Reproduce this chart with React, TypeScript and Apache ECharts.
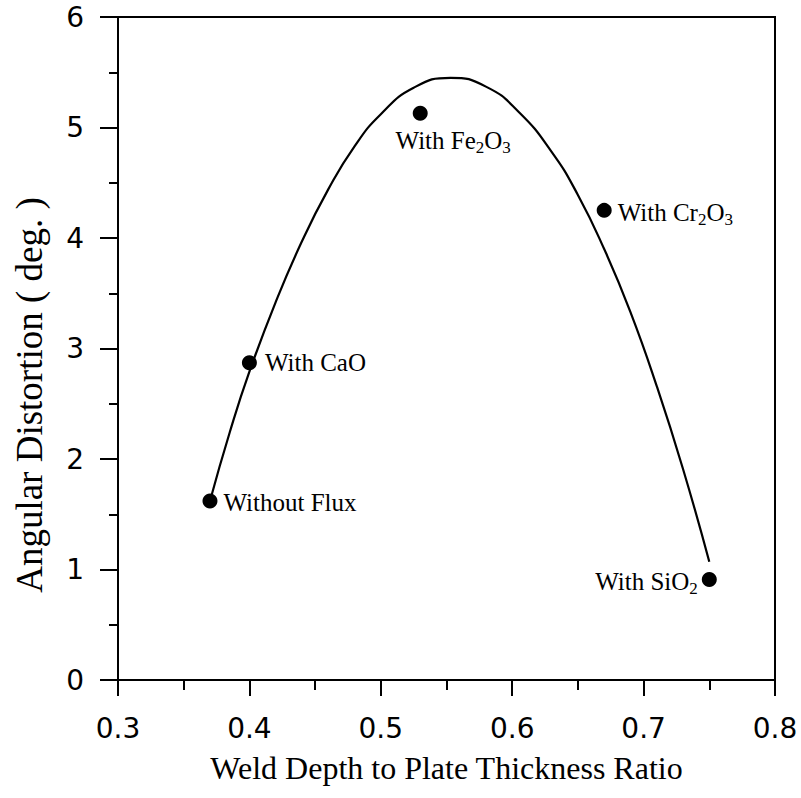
import React, { useEffect, useRef } from "react";
import * as echarts from "echarts";

// Measured points
const pointNames = ["Without Flux", "With CaO", "With Fe2O3", "With Cr2O3", "With SiO2"];
const pointX = [0.37, 0.40, 0.53, 0.67, 0.75];
const pointY = [1.62, 2.87, 5.13, 4.25, 0.91];

// Fitted curve
const curveX = [0.370, 0.385, 0.400, 0.420, 0.440, 0.460, 0.480, 0.500, 0.525, 0.553, 0.580, 0.605, 0.630, 0.650, 0.670, 0.690, 0.710, 0.730, 0.750];
const curveY = [1.62, 2.24, 2.79, 3.42, 3.97, 4.44, 4.83, 5.12, 5.36, 5.45, 5.37, 5.14, 4.78, 4.39, 3.90, 3.33, 2.66, 1.91, 1.07];

const xTitle = "Weld Depth to Plate Thickness Ratio";
const yTitle = "Angular Distortion ( deg. )";

// rich-text label markup (subscripts)
const richLabel: Record<string, string> = {
  "Without Flux": "{t|Without Flux}",
  "With CaO": "{t|With CaO}",
  "With Fe2O3": "{t|With Fe}{s|2}{t|O}{s|3}",
  "With Cr2O3": "{t|With Cr}{s|2}{t|O}{s|3}",
  "With SiO2": "{t|With SiO}{s|2}",
};

const labelPlacement: Record<string, any> = {
  "Without Flux": { position: "right", distance: 6, offset: [0, 2] },
  "With CaO": { position: "right", distance: 8, offset: [0, 0] },
  "With Fe2O3": { position: "bottom", distance: 4, offset: [33, 0] },
  "With Cr2O3": { position: "right", distance: 6, offset: [0, 2] },
  "With SiO2": { position: "left", distance: 4, offset: [0, 2] },
};

const serif = "'Liberation Serif', 'Times New Roman', serif";
const sans = "'DejaVu Sans', Verdana, sans-serif";

export default function App() {
  const ref = useRef<HTMLDivElement>(null);
  useEffect(() => {
    if (!ref.current) return;
    const chart = echarts.init(ref.current, undefined, { renderer: "svg" });
    const rich = {
      t: { fontFamily: serif, fontSize: 25, color: "#000" },
      s: { fontFamily: serif, fontSize: 17, color: "#000", padding: [14, 0, 0, 0] },
    };
    chart.setOption({
      animation: false,
      backgroundColor: "#fff",
      grid: {
        left: 118,
        right: 26,
        top: 17,
        bottom: 118,
        show: true,
        borderColor: "#000",
        borderWidth: 2,
        backgroundColor: "transparent",
      },
      xAxis: {
        type: "value",
        min: 0.3,
        max: 0.8,
        interval: 0.1,
        axisLine: { show: true, onZero: false, lineStyle: { color: "#000", width: 2 } },
        axisTick: { show: true, inside: false, length: 16, lineStyle: { color: "#000", width: 2 } },
        minorTick: { show: true, splitNumber: 2, length: 10, lineStyle: { color: "#000", width: 2 } },
        splitLine: { show: false },
        axisLabel: {
          margin: 34,
          fontFamily: sans,
          fontSize: 28,
          color: "#000",
          formatter: (v: number) => v.toFixed(1),
        },
        name: xTitle,
        nameLocation: "middle",
        nameGap: 72,
        nameTextStyle: { fontFamily: serif, fontSize: 32, color: "#000" },
      },
      yAxis: {
        type: "value",
        min: 0,
        max: 6,
        interval: 1,
        axisLine: { show: true, onZero: false, lineStyle: { color: "#000", width: 2 } },
        axisTick: { show: true, inside: false, length: 18, lineStyle: { color: "#000", width: 2 } },
        minorTick: { show: true, splitNumber: 2, length: 9, lineStyle: { color: "#000", width: 2 } },
        splitLine: { show: false },
        axisLabel: { margin: 34, fontFamily: sans, fontSize: 28, color: "#000" },
      },
      graphic: [
        {
          type: "text",
          x: 29,
          y: 395,
          rotation: Math.PI / 2,
          style: {
            text: yTitle,
            fontFamily: serif,
            fontSize: 37,
            fill: "#000",
            align: "center",
            verticalAlign: "middle",
          },
        },
      ],
      series: [
        {
          type: "line",
          data: curveX.map((x, i) => [x, curveY[i]]),
          smooth: true,
          showSymbol: false,
          symbol: "none",
          lineStyle: { color: "#000", width: 2.2 },
          z: 2,
        },
        {
          type: "scatter",
          symbol: "circle",
          symbolSize: 15,
          itemStyle: { color: "#000", opacity: 1 },
          z: 3,
          data: pointNames.map((n, i) => ({
            value: [pointX[i], pointY[i]],
            name: n,
            label: {
              show: true,
              ...labelPlacement[n],
              formatter: richLabel[n],
              rich,
            },
          })),
        },
      ],
    });
    return () => chart.dispose();
  }, []);
  return (
    <div
      ref={ref}
      style={{ position: "absolute", left: 0, top: 0, width: 801, height: 798, background: "#fff" }}
    />
  );
}
